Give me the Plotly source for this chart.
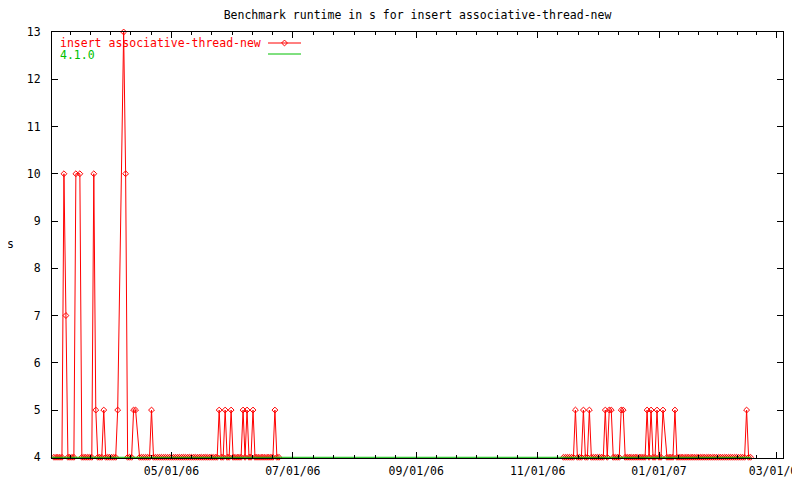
import plotly.graph_objects as go
import pandas as pd

# ---------------- data ----------------
title_text = "Benchmark runtime in s for insert associative-thread-new"
series_name = "insert associative-thread-new"
ref_name = "4.1.0"
y_title = "s"

# daily runtimes of the benchmark, first block starts 2006-03-03
seg1_start = "2006-03-03"
seg1_values = [
    4, 4, 4, 4, 4, 10, 7, 4, 4, 4,
    4, 10, None, 10, 4, 4, 4, 4, 4, 4,
    10, 5, 4, 4, 4, 5, 4, 4, 4, 4,
    4, 4, 5, None, None, 13, 10, 4, 4, 4,
    5, 5, None, 4, 4, 4, 4, 4, 4, 5,
    4, 4, 4, 4, 4, 4, 4, 4, 4, 4,
    4, 4, 4, 4, 4, 4, 4, 4, 4, 4,
    4, 4, 4, 4, 4, 4, 4, 4, 4, 4,
    4, 4, 4, 5, 4, 4, 5, 4, 4, 5,
    4, 4, 4, 4, 4, 5, 4, 5, 4, 4,
    5, 4, 4, 4, 4, 4, 4, 4, 4, 4,
    4, 5, 4, 4,
]

# second block starts 2006-11-14
seg2_start = "2006-11-14"
seg2_values = [
    4, 4, 4, 4, 4, 4, 5, 4, 4, 4,
    5, 4, 4, 5, 4, 4, 4, 4, 4, 4,
    4, 5, 4, 5, 5, 4, 4, 4, 4, 5,
    5, 4, 4, 4, 4, 4, 4, 4, 4, 4,
    4, 4, 5, 4, 5, 4, 4, 5, 4, 4,
    5, None, 4, 4, 4, 4, 5, 4, 4, 4,
    4, 4, 4, 4, 4, 4, 4, 4, 4, 4,
    4, 4, 4, 4, 4, 4, 4, 4, 4, 4,
    4, 4, 4, 4, 4, 4, 4, 4, 4, 4,
    4, 4, 5, 4, 4,
]

# reference run (4.1.0)
ref_dates = ["2006-03-02", "2007-02-16"]
ref_values = [4.0, 4.0]

x_tick_dates = ["2006-05-01", "2006-07-01", "2006-09-01",
                "2006-11-01", "2007-01-01", "2007-03-01"]
x_tick_labels = ["05/01/06", "07/01/06", "09/01/06",
                 "11/01/06", "01/01/07", "03/01/07"]
y_ticks = [4, 5, 6, 7, 8, 9, 10, 11, 12, 13]

x_range = ["2006-03-02 00:00", "2007-03-04 07:00"]
y_range = [3.985, 13.0]

# ---------------- styling ----------------
RED = "#ff0000"
GREEN = "#00c000"
FONT = "DejaVu Sans Mono"
FS = 11.5

# page is 800x480, the html body adds an 8px offset
OFF = 8
PW, PH = 800, 480
W, H = PW - OFF, PH - OFF
# plot area in page pixels
PX0, PX1, PY0, PY1 = 52, 783, 32, 458
L, R, T, B = PX0 - OFF, PW - PX1, PY0 - OFF, PH - PY1


def seg_points(start, values):
    d0 = pd.Timestamp(start)
    xs, ys = [], []
    for i, v in enumerate(values):
        if v is None:
            continue
        xs.append((d0 + pd.Timedelta(days=i)).strftime("%Y-%m-%d"))
        ys.append(v)
    return xs, ys


x1, y1 = seg_points(seg1_start, seg1_values)
x2, y2 = seg_points(seg2_start, seg2_values)
xs = x1 + [None] + x2
ys = y1 + [None] + y2

# minor ticks: 5 between each pair of major ticks
major_all = [pd.Timestamp(d) for d in ["2006-03-01"] + x_tick_dates + ["2007-05-01"]]
minor_vals = []
for a, b in zip(major_all[:-1], major_all[1:]):
    for k in range(1, 6):
        minor_vals.append((a + (b - a) * k / 6).strftime("%Y-%m-%d %H:%M"))

fig = go.Figure()

fig.add_trace(go.Scatter(
    x=xs, y=ys, mode="lines+markers", name=series_name,
    line=dict(color=RED, width=1),
    marker=dict(symbol="diamond-open", size=4.5, color=RED,
                line=dict(color=RED, width=1)),
    connectgaps=False, cliponaxis=False, showlegend=False,
))
fig.add_trace(go.Scatter(
    x=ref_dates, y=ref_values, mode="lines", name=ref_name,
    line=dict(color=GREEN, width=1), showlegend=False,
))

# legend drawn gnuplot-style (text left, sample right) on a pixel overlay
fig.add_trace(go.Scatter(x=[268, 301], y=[43, 43], xaxis="x2", yaxis="y2",
                         mode="lines", line=dict(color=RED, width=1),
                         showlegend=False, hoverinfo="skip"))
fig.add_trace(go.Scatter(x=[284.5], y=[43], xaxis="x2", yaxis="y2",
                         mode="markers",
                         marker=dict(symbol="diamond-open", size=4.5, color=RED,
                                     line=dict(color=RED, width=1)),
                         showlegend=False, hoverinfo="skip"))
fig.add_trace(go.Scatter(x=[268, 301], y=[54, 54], xaxis="x2", yaxis="y2",
                         mode="lines", line=dict(color=GREEN, width=1),
                         showlegend=False, hoverinfo="skip"))

fig.add_annotation(x=58, y=43, xref="x2", yref="y2", text=series_name,
                   showarrow=False, xanchor="left", yanchor="middle",
                   font=dict(family=FONT, size=FS, color=RED))
fig.add_annotation(x=58, y=54.5, xref="x2", yref="y2", text=ref_name,
                   showarrow=False, xanchor="left", yanchor="middle",
                   font=dict(family=FONT, size=FS, color=GREEN))

# y axis title, horizontal like gnuplot
fig.add_annotation(x=(10 - PX0) / (PX1 - PX0), y=(PY1 - 244) / (PY1 - PY0),
                   xref="paper", yref="paper", text=y_title, showarrow=False,
                   xanchor="center", yanchor="middle",
                   font=dict(family=FONT, size=FS, color="black"))

fig.update_layout(
    width=W, height=H,
    margin=dict(l=L, r=R, t=T, b=B, pad=0, autoexpand=False),
    paper_bgcolor="white", plot_bgcolor="white",
    font=dict(family=FONT, size=FS, color="black"),
    title=dict(text=title_text, x=(417.5 - OFF) / W, xanchor="center",
               y=1 - (15 - OFF) / H, yanchor="middle",
               font=dict(family=FONT, size=FS, color="black")),
    xaxis=dict(
        type="date", range=x_range,
        tickmode="array", tickvals=x_tick_dates, ticktext=x_tick_labels,
        ticks="inside", ticklen=6, tickwidth=1, tickcolor="black",
        showline=True, linecolor="black", linewidth=1, mirror="ticks",
        showgrid=False, zeroline=False, ticklabelstandoff=2,
        ticklabeloverflow="allow",
        minor=dict(tickmode="array", tickvals=minor_vals, ticks="inside",
                   ticklen=3, tickcolor="black", tickwidth=1, showgrid=False),
    ),
    yaxis=dict(
        range=y_range, tickmode="array", tickvals=y_ticks,
        ticks="inside", ticklen=6, tickwidth=1, tickcolor="black",
        showline=True, linecolor="black", linewidth=1, mirror="ticks",
        showgrid=False, zeroline=False, ticklabelstandoff=8,
    ),
    xaxis2=dict(overlaying="x", range=[PX0, PX1], visible=False,
                anchor="y2", fixedrange=True),
    yaxis2=dict(overlaying="y", range=[PY1, PY0], visible=False,
                anchor="x2", fixedrange=True),
)

fig.write_html("out.html")
